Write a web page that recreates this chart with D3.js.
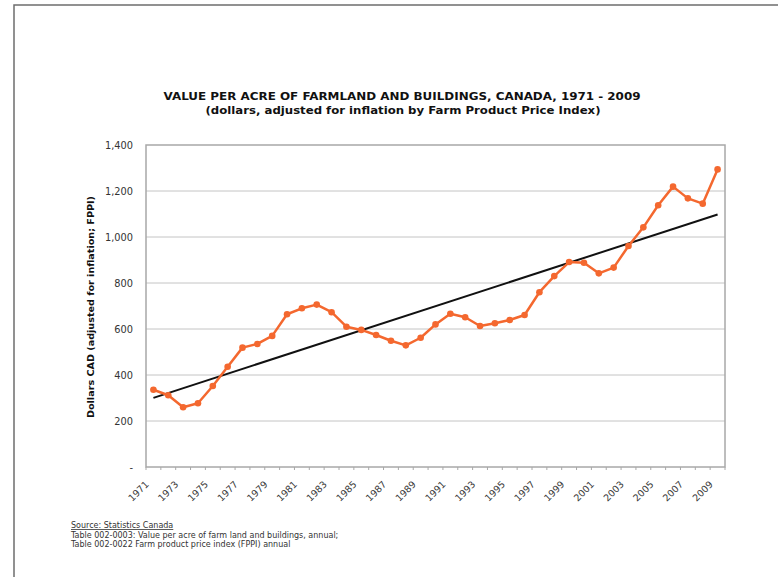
<!DOCTYPE html>
<html>
<head>
<meta charset="utf-8">
<script src="https://cdn.jsdelivr.net/npm/d3@7"></script>
<style>
  html, body { margin: 0; padding: 0; background: #fff; }
  svg { display: block; }
  text { font-family: "DejaVu Sans", Verdana, sans-serif; }
</style>
</head>
<body>
<svg id="chart" width="778" height="577"></svg>
<script>
// Value per acre of farmland and buildings (CAD, FPPI-adjusted), 1971-2009
const years = d3.range(1971, 2010);
const values = [
  336, 312, 260, 277, 352, 436, 519, 535, 570, 664,
  690, 706, 673, 610, 596, 574, 549, 529, 562, 620,
  666, 651, 613, 625, 639, 661, 760, 830, 891, 888,
  842, 867, 961, 1042, 1138, 1219, 1168, 1145, 1294
];
const yTicks = [0, 200, 400, 600, 800, 1000, 1200, 1400];
const xLabelYears = years.filter((d, i) => i % 2 === 0);

const titleLines = [
  "VALUE PER ACRE OF FARMLAND AND BUILDINGS, CANADA, 1971 - 2009",
  "(dollars, adjusted for inflation by Farm Product Price Index)"
];
const yTitle = "Dollars CAD (adjusted for inflation; FPPI)";
const sourceLines = [
  "Source:  Statistics Canada",
  "Table 002-0003: Value per acre of farm land and buildings, annual;",
  "Table 002-0022 Farm product price index (FPPI) annual"
];

const svg = d3.select("#chart");
const plot = { left: 146, right: 725, top: 145, bottom: 467 };

const x = d3.scaleBand().domain(years).range([plot.left, plot.right]).padding(0);
const cx = d => x(d) + x.bandwidth() / 2;
const y = d3.scaleLinear().domain([0, 1400]).range([plot.bottom, plot.top]);

// page frame
svg.append("path")
  .attr("d", "M14,577 L14,5 L778,5")
  .attr("fill", "none").attr("stroke", "#6e6e6e").attr("stroke-width", 1.5);

// titles
const titleG = svg.append("g").attr("text-anchor", "middle")
  .attr("font-weight", "bold").attr("fill", "#111");
titleG.append("text").attr("x", 402).attr("y", 100)
  .attr("font-size", 10.5)
  .attr("textLength", 477).attr("lengthAdjust", "spacingAndGlyphs")
  .text(titleLines[0]);
titleG.append("text").attr("x", 403).attr("y", 114)
  .attr("font-size", 10.5)
  .attr("textLength", 395).attr("lengthAdjust", "spacingAndGlyphs")
  .text(titleLines[1]);

// horizontal gridlines
svg.append("g")
  .selectAll("line")
  .data(yTicks.filter(v => v > 0 && v < 1400))
  .join("line")
  .attr("x1", plot.left).attr("x2", plot.right)
  .attr("y1", d => y(d)).attr("y2", d => y(d))
  .attr("stroke", "#c4c4c4").attr("stroke-width", 1);

// plot frame
svg.append("rect")
  .attr("x", plot.left).attr("y", plot.top)
  .attr("width", plot.right - plot.left).attr("height", plot.bottom - plot.top)
  .attr("fill", "none").attr("stroke", "#a8a8a8").attr("stroke-width", 1.5);

// y axis
const yAxis = d3.axisLeft(y)
  .tickValues(yTicks)
  .tickSize(0)
  .tickPadding(13)
  .tickFormat(v => v === 0 ? "-" : d3.format(",")(v));
const yg = svg.append("g").attr("transform", `translate(${plot.left},0)`).call(yAxis);
yg.select(".domain").remove();
yg.selectAll("text").attr("font-size", 9.8).attr("fill", "#333")
  .attr("font-family", "DejaVu Sans, Verdana, sans-serif");

// x axis ticks at category boundaries
svg.append("g")
  .selectAll("line")
  .data(years.concat([2010]))
  .join("line")
  .attr("x1", d => d === 2010 ? plot.right : x(d))
  .attr("x2", d => d === 2010 ? plot.right : x(d))
  .attr("y1", plot.bottom).attr("y2", plot.bottom + 3)
  .attr("stroke", "#a8a8a8").attr("stroke-width", 1);

// x labels, rotated
svg.append("g")
  .selectAll("text")
  .data(xLabelYears)
  .join("text")
  .attr("text-anchor", "end")
  .attr("font-size", 9.5)
  .attr("fill", "#3a3a3a")
  .attr("transform", d => `translate(${cx(d) - 4},${plot.bottom + 18}) rotate(-45)`)
  .text(d => d);

// y axis title
svg.append("text")
  .attr("transform", "translate(94,307) rotate(-90)")
  .attr("text-anchor", "middle")
  .attr("font-size", 8.5).attr("font-weight", "bold").attr("fill", "#111")
  .attr("textLength", 222).attr("lengthAdjust", "spacingAndGlyphs")
  .text(yTitle);

// linear trend (least squares over the series)
const n = years.length;
const mx = d3.mean(years), my = d3.mean(values);
const slope = d3.sum(years, (t, i) => (t - mx) * (values[i] - my)) /
              d3.sum(years, t => (t - mx) * (t - mx));
const trend = t => my + slope * (t - mx);
const first = years[0], last = years[n - 1];
svg.append("line")
  .attr("x1", cx(first)).attr("y1", y(trend(first)))
  .attr("x2", cx(last)).attr("y2", y(trend(last)))
  .attr("stroke", "#111").attr("stroke-width", 2);

// data line and markers
const series = years.map((t, i) => ({ t, v: values[i] }));
const orange = "#f4682f";
svg.append("path")
  .datum(series)
  .attr("fill", "none").attr("stroke", orange).attr("stroke-width", 2.5)
  .attr("stroke-linejoin", "round")
  .attr("d", d3.line().x(d => cx(d.t)).y(d => y(d.v)));
svg.append("g")
  .selectAll("circle")
  .data(series)
  .join("circle")
  .attr("cx", d => cx(d.t)).attr("cy", d => y(d.v)).attr("r", 3.3)
  .attr("fill", orange);

// source notes
const src = svg.append("g").attr("font-size", 8).attr("fill", "#333");
src.selectAll("text")
  .data(sourceLines)
  .join("text")
  .attr("x", 71)
  .attr("y", (d, i) => 528 + i * 9.5)
  .attr("text-decoration", (d, i) => i === 0 ? "underline" : null)
  .text(d => d);
</script>
</body>
</html>
